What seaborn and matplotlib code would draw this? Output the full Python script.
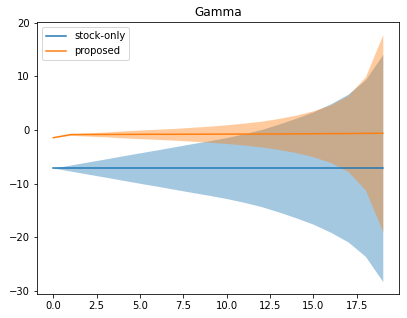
import matplotlib
matplotlib.use("Agg")
import matplotlib.pyplot as plt
import numpy as np
import seaborn as sns

steps = list(range(20))

# stock-only: mean and half width of the band
stock_mean = [-7.1] * 20
stock_width = [0.0, 0.57, 1.14, 1.7, 2.28, 2.85, 3.4, 3.98, 4.55, 5.1,
               5.7, 6.4, 7.2, 8.2, 9.3, 10.5, 12.0, 13.8, 16.5, 21.2]

# proposed
prop_mean = [-1.44, -0.85, -0.84, -0.83, -0.82, -0.81, -0.8, -0.8, -0.79, -0.78,
             -0.77, -0.76, -0.75, -0.74, -0.72, -0.7, -0.68, -0.66, -0.63, -0.6]
prop_width = [0.0, 0.15, 0.3, 0.45, 0.65, 0.8, 0.95, 1.1, 1.3, 1.5,
              1.75, 2.05, 2.4, 2.9, 3.5, 4.3, 5.4, 7.1, 10.6, 18.4]

fig = plt.figure(figsize=(407 / 72, 318 / 72), dpi=72)
ax = fig.add_axes([0.0907, 0.0755, 0.8903, 0.8545])

series = [("stock-only", stock_mean, stock_width, "C0"),
          ("proposed", prop_mean, prop_width, "C1")]
for name, mean, width, col in series:
    m = np.array(mean)
    w = np.array(width)
    sns.lineplot(x=steps, y=m, color=col, label=name, ax=ax, linewidth=1.5)
    ax.fill_between(steps, m - w, m + w, color=col, alpha=0.4, linewidth=0)

ax.set_title("Gamma", fontsize=12)
ax.tick_params(labelsize=10)
ax.legend(loc="upper left", fontsize=10)

fig.savefig("out.png", dpi=72)
